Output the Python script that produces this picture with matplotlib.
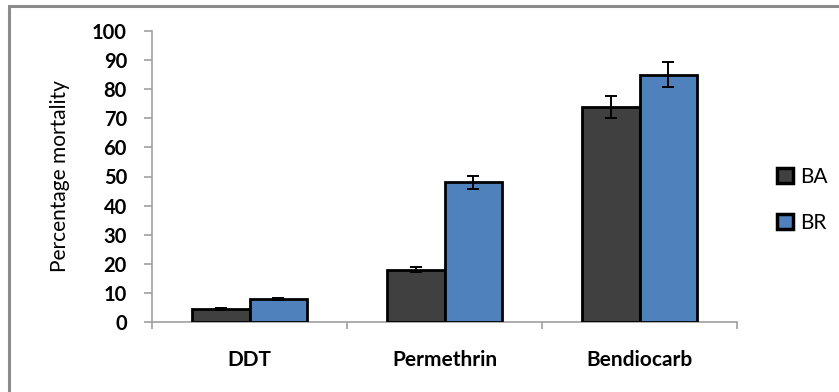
import matplotlib
matplotlib.use("Agg")
import matplotlib.pyplot as plt
import numpy as np
from matplotlib.patches import Rectangle, Patch

categories = ["DDT", "Permethrin", "Bendiocarb"]
series_names = ["BA", "BR"]
ba_values = [4.5, 18.0, 74.0]
br_values = [8.0, 48.0, 85.0]
ba_err = [0.3, 0.8, 3.8]
br_err = [0.3, 2.3, 4.3]
yticks = [0, 10, 20, 30, 40, 50, 60, 70, 80, 90, 100]

colors = ["#404040", "#4F81BD"]
W, H = 839, 392
fig = plt.figure(figsize=(W / 100, H / 100), dpi=100)
fig.patch.set_facecolor("white")

# outer border (top and left visible)
fig.patches.append(Rectangle((9 / W, -0.1), 1.2, (H - 6) / H + 0.1, transform=fig.transFigure,
                             fill=False, edgecolor="#8c8c8c", linewidth=2.2))

ax = fig.add_axes([152 / W, (H - 322) / H, (737 - 152) / W, (322 - 31) / H])
x = np.arange(len(categories))
bw = 0.293
ekw = dict(elinewidth=1.4, capthick=1.4, ecolor="black")
ax.bar(x - bw / 2, ba_values, bw, color=colors[0], edgecolor="black", linewidth=2,
       yerr=ba_err, capsize=4.5, error_kw=ekw, label=series_names[0], zorder=3)
ax.bar(x + bw / 2, br_values, bw, color=colors[1], edgecolor="black", linewidth=2,
       yerr=br_err, capsize=4.5, error_kw=ekw, label=series_names[1], zorder=3)

ax.set_xlim(-0.5, len(categories) - 0.5)
ax.set_ylim(0, 100)
ax.set_yticks(yticks)
ax.set_yticklabels([str(t) for t in yticks], fontsize=14.5, fontweight="bold", family="Lato")
ax.set_xticks(x)
ax.set_xticklabels(categories, fontsize=15, fontweight="bold", family="Lato")
ax.tick_params(axis="x", which="major", length=0, pad=20)
ax.set_xticks(np.arange(-0.5, len(categories), 1.0), minor=True)
ax.tick_params(axis="x", which="minor", length=5, color="#a0a0a0", width=1.2)
ax.tick_params(axis="y", length=6, color="#a0a0a0", width=1.2, pad=12)

for s in ["top", "right"]:
    ax.spines[s].set_visible(False)
for s in ["left", "bottom"]:
    ax.spines[s].set_color("#a0a0a0")
    ax.spines[s].set_linewidth(1.2)

ax.set_ylabel("Percentage mortality", fontsize=15, family="Lato", labelpad=16)

handles = [Patch(facecolor=colors[i], edgecolor="black", linewidth=2.5, label=series_names[i])
           for i in range(2)]
leg = fig.legend(handles=handles, loc="center left", bbox_to_anchor=(777 / W, (H - 200) / H),
                 frameon=False, handlelength=0.75, handleheight=0.75, borderaxespad=0,
                 borderpad=0, handletextpad=0.35, labelspacing=1.25,
                 prop={"family": "Lato", "size": 15})

fig.savefig("out.png", dpi=100)
